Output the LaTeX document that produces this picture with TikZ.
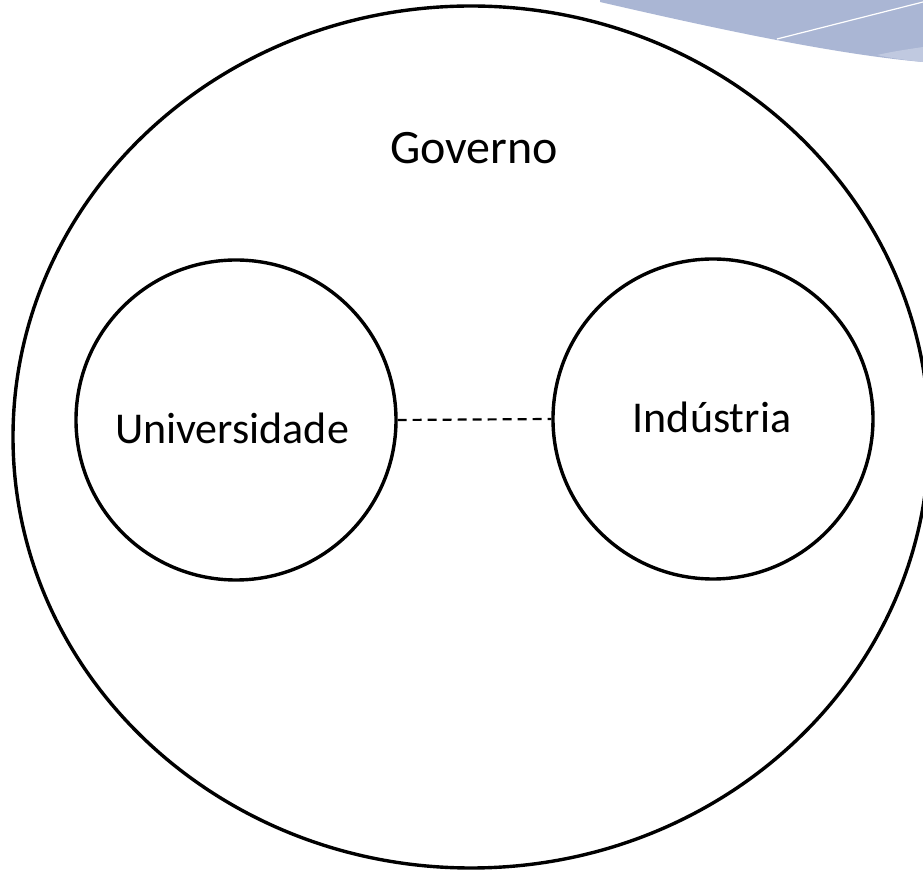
\documentclass[tikz,border=0pt]{standalone}
\usepackage{fontspec}
\setmainfont{Carlito}
\usetikzlibrary{shapes.geometric}
\definecolor{swoosh}{HTML}{AAB6D4}
\definecolor{swooshlight}{HTML}{C0C9E0}
\begin{document}
\begin{tikzpicture}[x=0.5pt,y=-0.5pt,
  circ/.style={draw,circle,line width=1.7pt,minimum size=160pt,inner sep=0pt},
  outer/.style={draw,ellipse,line width=1.7pt,minimum width=458pt,minimum height=431pt,inner sep=0pt},
  lbl/.style={font=\fontsize{22}{26}\selectfont,inner sep=0pt}]
  \useasboundingbox (0,0) rectangle (923,871);
  % background swoosh, top right
  \fill[swoosh] (600,0) -- (923,0) -- (923,62)
    .. controls (830,54) and (700,25) .. (600,2) -- cycle;
  \fill[swooshlight] (877,55) .. controls (895,51) and (910,49) .. (923,47)
    -- (923,62) .. controls (905,60) and (890,58) .. (877,55);
  \draw[white,line width=0.6pt] (777,39) -- (923,2);
  % the three spheres
  \node[outer] (gov) at (471,437) {};
  \node[lbl,font=\fontsize{24}{28}\selectfont] (govlbl) at (474,148) {Governo};
  \node[circ] (uni) at (236,420) {};
  \node[lbl] (unilbl) at (232,428) {Universidade};
  \node[circ] (ind) at (713,419) {};
  \node[lbl] (indlbl) at (712,417) {Indústria};
  \draw[line width=1.1pt,dash pattern=on 4.5pt off 3pt] (uni.east) -- (ind.west);
\end{tikzpicture}
\end{document}
